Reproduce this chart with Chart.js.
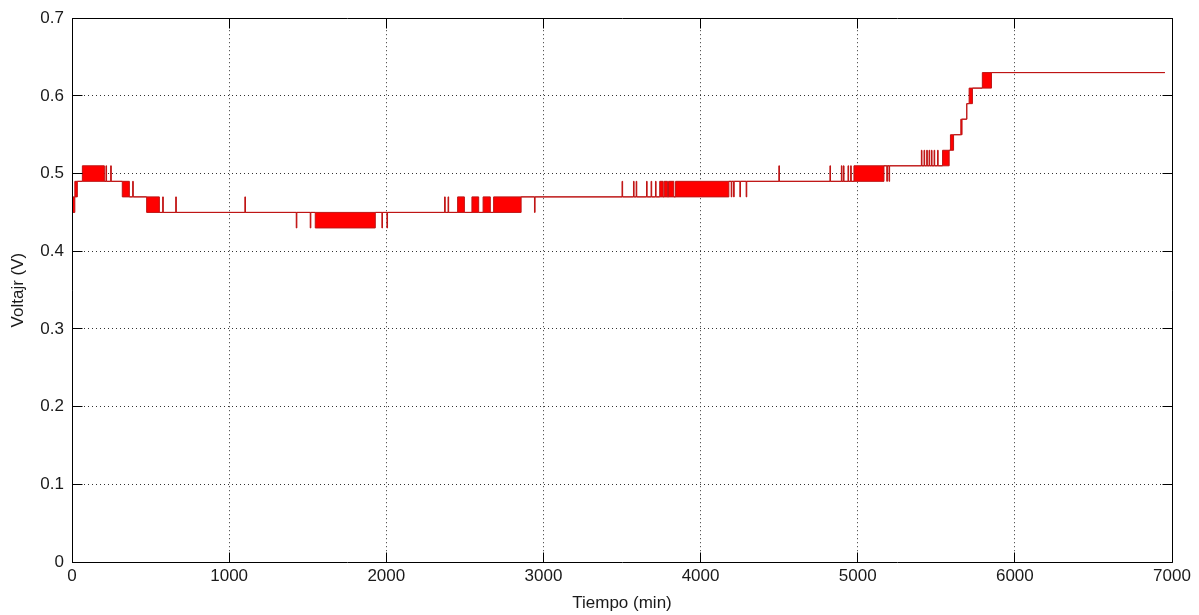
<!DOCTYPE html>
<html><head><meta charset="utf-8">
<script src="https://cdn.jsdelivr.net/npm/chart.js@4/dist/chart.umd.min.js"></script>
<style>html,body{margin:0;padding:0;background:#fff;overflow:hidden}#wrap{width:1199px;height:615px}</style>
</head><body><div id="wrap"><canvas id="c" width="1199" height="615"></canvas></div>
<script>
const xTicks = [0, 1000, 2000, 3000, 4000, 5000, 6000, 7000];
const xTickLabels = ['0', '1000', '2000', '3000', '4000', '5000', '6000', '7000'];
const yTicks = [0, 0.1, 0.2, 0.3, 0.4, 0.5, 0.6, 0.7];
const yTickLabels = ['0', '0.1', '0.2', '0.3', '0.4', '0.5', '0.6', '0.7'];

// Time breakpoints (min); from each breakpoint the signal stays between vLow and vHigh
const tBreak = [0, 18, 34, 66, 206, 216, 220, 246, 250, 320, 365, 386, 390, 475, 556, 577, 581, 660, 664,
  1100, 1104, 1427, 1431, 1516, 1520, 1548, 1930, 1972, 1976, 2004, 2008,
  2371, 2375, 2393, 2397, 2454, 2497, 2545, 2588, 2616, 2662, 2683, 2858, 2943, 2947,
  3500, 3504, 3573, 3577, 3590, 3594, 3656, 3660, 3685, 3689, 3713, 3717, 3740, 3762, 3768, 3790, 3796, 3830, 3841,
  4180, 4195, 4199, 4210, 4214, 4250, 4254, 4290, 4294, 4498, 4502,
  4823, 4827, 4896, 4900, 4909, 4913, 4938, 4942, 4955, 4959, 4976, 5167, 5185, 5189, 5199, 5203,
  5405, 5409, 5422, 5426, 5439, 5443, 5454, 5458, 5469, 5473, 5486, 5490, 5508, 5512, 5540, 5582,
  5590, 5610, 5656, 5664, 5694, 5709, 5730, 5793, 5851, 6955];
const vLow = [0.45, 0.47, 0.49, 0.49, 0.49, 0.49, 0.49, 0.49, 0.49, 0.47, 0.47, 0.47, 0.47, 0.45, 0.45, 0.45, 0.45, 0.45, 0.45,
  0.45, 0.45, 0.43, 0.45, 0.43, 0.45, 0.43, 0.45, 0.43, 0.45, 0.43, 0.45,
  0.45, 0.45, 0.45, 0.45, 0.45, 0.45, 0.45, 0.45, 0.45, 0.45, 0.45, 0.47, 0.45, 0.47,
  0.47, 0.47, 0.47, 0.47, 0.47, 0.47, 0.47, 0.47, 0.47, 0.47, 0.47, 0.47, 0.47, 0.47, 0.47, 0.47, 0.47, 0.47, 0.47,
  0.49, 0.47, 0.49, 0.47, 0.49, 0.47, 0.49, 0.47, 0.49, 0.49, 0.49,
  0.49, 0.49, 0.49, 0.49, 0.49, 0.49, 0.49, 0.49, 0.49, 0.49, 0.49, 0.51, 0.49, 0.51, 0.49, 0.51,
  0.51, 0.51, 0.51, 0.51, 0.51, 0.51, 0.51, 0.51, 0.51, 0.51, 0.51, 0.51, 0.51, 0.51, 0.51, 0.53,
  0.53, 0.55, 0.55, 0.57, 0.59, 0.59, 0.61, 0.61, 0.63, 0.63];
const vHigh = [0.47, 0.49, 0.49, 0.51, 0.49, 0.51, 0.49, 0.51, 0.49, 0.49, 0.47, 0.49, 0.47, 0.47, 0.45, 0.47, 0.45, 0.47, 0.45,
  0.47, 0.45, 0.45, 0.45, 0.45, 0.45, 0.45, 0.45, 0.45, 0.45, 0.45, 0.45,
  0.47, 0.45, 0.47, 0.45, 0.47, 0.45, 0.47, 0.45, 0.47, 0.45, 0.47, 0.47, 0.47, 0.47,
  0.49, 0.47, 0.49, 0.47, 0.49, 0.47, 0.49, 0.47, 0.49, 0.47, 0.49, 0.47, 0.49, 0.47, 0.49, 0.47, 0.49, 0.47, 0.49,
  0.49, 0.49, 0.49, 0.49, 0.49, 0.49, 0.49, 0.49, 0.49, 0.51, 0.49,
  0.51, 0.49, 0.51, 0.49, 0.51, 0.49, 0.51, 0.49, 0.51, 0.49, 0.51, 0.51, 0.51, 0.51, 0.51, 0.51,
  0.53, 0.51, 0.53, 0.51, 0.53, 0.51, 0.53, 0.51, 0.53, 0.51, 0.53, 0.51, 0.53, 0.51, 0.53, 0.53,
  0.55, 0.55, 0.57, 0.57, 0.59, 0.61, 0.61, 0.63, 0.63, 0.63];

const FONT = {family: "'Liberation Sans', Arial, sans-serif", size: 17};
const TXT = '#1a1a1a';

const boxPlugin = {
  id: 'box',
  afterDraw(chart) {
    const {ctx, chartArea: a, scales: {x, y}} = chart;
    const al = p => Math.round(p - 0.5) + 0.5;
    const L = al(a.left), R = al(a.right), T = al(a.top), B = al(a.bottom);
    ctx.save();
    ctx.strokeStyle = '#000';
    ctx.lineWidth = 1;
    ctx.beginPath();
    ctx.rect(L, T, R - L, B - T);
    const tl = 10;
    xTicks.forEach(v => {
      const px = al(x.getPixelForValue(v));
      ctx.moveTo(px, B); ctx.lineTo(px, B - tl);
      ctx.moveTo(px, T); ctx.lineTo(px, T + tl);
    });
    yTicks.forEach(v => {
      const py = al(y.getPixelForValue(v));
      ctx.moveTo(L, py); ctx.lineTo(L + tl, py);
      ctx.moveTo(R, py); ctx.lineTo(R - tl, py);
    });
    ctx.stroke();
    ctx.restore();
  }
};

const lowPts = tBreak.map((t, i) => ({x: t, y: vLow[i]}));
const highPts = tBreak.map((t, i) => ({x: t, y: vHigh[i]}));

new Chart(document.getElementById('c'), {
  type: 'line',
  data: {
    datasets: [
      {data: lowPts, stepped: true, borderColor: 'rgb(190,20,20)', borderWidth: 1, pointRadius: 0, fill: false},
      {data: highPts, stepped: true, borderColor: 'rgb(190,20,20)', borderWidth: 1, pointRadius: 0,
       fill: '-1', backgroundColor: 'rgb(255,0,0)'}
    ]
  },
  options: {
    responsive: false,
    animation: false,
    devicePixelRatio: 1,
    layout: {padding: {left: 0, right: 27, top: 15, bottom: 0}},
    plugins: {legend: {display: false}, tooltip: {enabled: false}},
    scales: {
      x: {
        type: 'linear', min: 0, max: 7000,
        afterBuildTicks: s => { s.ticks = xTicks.map(v => ({value: v})); },
        afterFit: s => { s.height = 53; },
        ticks: {callback: (v, i) => xTickLabels[i], padding: 4, font: FONT, color: TXT, maxRotation: 0, autoSkip: false},
        grid: {color: '#333', lineWidth: 1, drawTicks: false},
        border: {display: false, dash: [1, 3]},
        title: {display: true, text: 'Tiempo (min)', font: FONT, color: TXT, padding: {top: 0, bottom: 1}}
      },
      y: {
        type: 'linear', min: 0, max: 0.7,
        afterBuildTicks: s => { s.ticks = yTicks.map(v => ({value: v})); },
        afterFit: s => { s.width = 72; },
        ticks: {callback: (v, i) => yTickLabels[i], padding: 8, font: FONT, color: TXT, autoSkip: false},
        grid: {color: '#333', lineWidth: 1, drawTicks: false},
        border: {display: false, dash: [1, 3]},
        title: {display: true, text: 'Voltajr (V)', font: FONT, color: TXT, padding: {top: 8, bottom: 0}}
      }
    }
  },
  plugins: [boxPlugin]
});
</script></body></html>
